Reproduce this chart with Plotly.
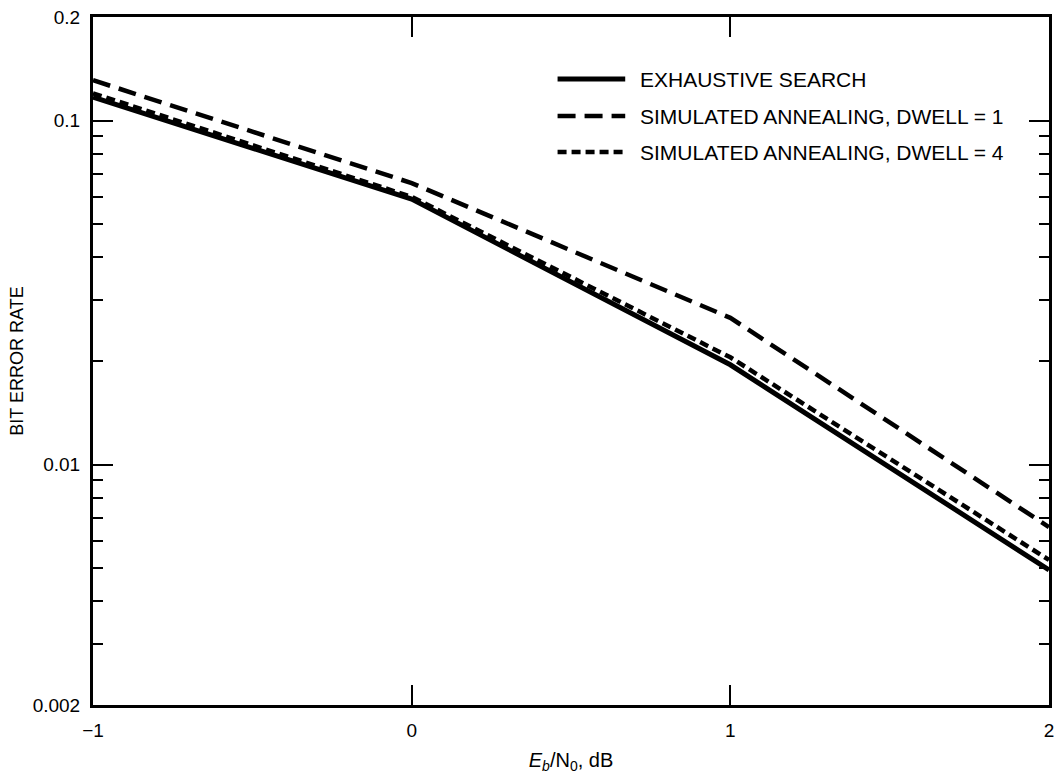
import plotly.graph_objects as go

# ---- data ----
ebn0_db = [-1, 0, 1, 2]
exhaustive = [0.117, 0.0591, 0.0195, 0.00494]
sa_dwell1 = [0.131, 0.0658, 0.0267, 0.00658]
sa_dwell4 = [0.120, 0.0600, 0.0205, 0.00528]

series_names = ["EXHAUSTIVE SEARCH",
                "SIMULATED ANNEALING, DWELL = 1",
                "SIMULATED ANNEALING, DWELL = 4"]
y_major = [0.002, 0.01, 0.1, 0.2]
y_major_text = ["0.002", "0.01", "0.1", "0.2"]
y_minor = [0.003, 0.004, 0.005, 0.006, 0.007, 0.008, 0.009,
           0.02, 0.03, 0.04, 0.05, 0.06, 0.07, 0.08, 0.09]
x_ticks = [-1, 0, 1, 2]
x_tick_text = ["\u22121", "0", "1", "2"]

# ---- layout geometry ----
W, H = 1058, 777
L, R, T, B = 93, 4, 17, 72
FONT = "Liberation Sans, Arial, Helvetica, sans-serif"

styles = [dict(dash="solid", width=5),
          dict(dash="18px,9px", width=4.5),
          dict(dash="9px,5px", width=4.5)]

fig = go.Figure()
for name, ys, st in zip(series_names, [exhaustive, sa_dwell1, sa_dwell4], styles):
    fig.add_trace(go.Scatter(x=ebn0_db, y=ys, mode="lines", name=name,
                             line=dict(color="black", **st), showlegend=False))

# manual legend (long line samples as in the reference)
pw = W - L - R
ph = H - T - B
def px2x(px):
    return (px - L) / pw
def py2y(py):
    return (H - B - py) / ph

rows = [79, 116, 152]
for name, st, ry in zip(series_names, styles, rows):
    fig.add_shape(type="line", xref="paper", yref="paper",
                  x0=px2x(560), x1=px2x(628), y0=py2y(ry), y1=py2y(ry),
                  line=dict(color="black", width=st["width"], dash=st["dash"]))
    fig.add_annotation(xref="paper", yref="paper", x=px2x(641), y=py2y(ry),
                       text=name, showarrow=False, xanchor="left", yanchor="middle",
                       font=dict(family=FONT, size=21, color="black"))

fig.update_layout(
    width=W, height=H,
    margin=dict(l=L, r=R, t=T, b=B),
    paper_bgcolor="white", plot_bgcolor="white",
    font=dict(family=FONT, size=19, color="black"),
)
fig.update_xaxes(
    range=[-1, 2], tickvals=x_ticks, ticktext=x_tick_text,
    ticks="inside", ticklen=20, tickwidth=2, tickcolor="black",
    showline=True, linewidth=3, linecolor="black", mirror="ticks",
    showgrid=False, zeroline=False,
    tickfont=dict(family=FONT, size=19), ticklabelstandoff=6,
    ticklabeloverflow="allow",
    title=dict(text="<i>E</i><sub><i>b</i></sub>/N<sub>0</sub>, dB",
               font=dict(family=FONT, size=20), standoff=14),
)
fig.update_yaxes(
    type="log", range=[0.30103 - 3, 0.30103 - 1],
    tickvals=y_major, ticktext=y_major_text,
    ticks="inside", ticklen=20, tickwidth=2, tickcolor="black",
    minor=dict(tickvals=y_minor, ticks="inside", ticklen=10, tickwidth=2,
               tickcolor="black", showgrid=False),
    showline=True, linewidth=3, linecolor="black", mirror="ticks",
    showgrid=False, zeroline=False,
    tickfont=dict(family=FONT, size=19), ticklabelstandoff=6,
    ticklabeloverflow="allow",
    title=dict(text="BIT ERROR RATE", font=dict(family=FONT, size=18), standoff=5),
)

fig.write_html("out.html")
